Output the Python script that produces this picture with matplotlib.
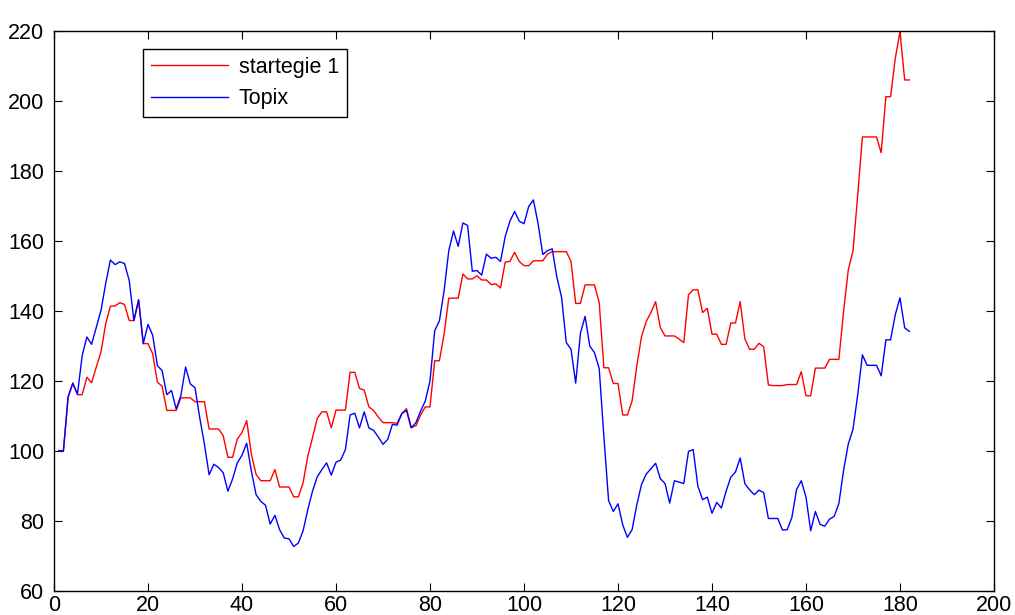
import numpy as np
import matplotlib.pyplot as plt

plt.rcParams['font.family'] = ['Liberation Sans', 'DejaVu Sans']

# cumulative value, base 100
strategy = [
    100, 100, 115.3, 119.3, 116, 116, 121, 119.4, 123.9, 128.2,
    136.3, 141.3, 141.4, 142.3, 141.8, 137.2, 137.2, 143, 130.6, 130.6,
    127.7, 119.6, 118.4, 111.5, 111.5, 111.5, 115.1, 115.1, 115.1, 114,
    114, 114, 106.2, 106.2, 106.2, 104.3, 98.1, 98.1, 103.3, 105.2,
    108.6, 98.9, 93.2, 91.4, 91.4, 91.4, 94.6, 89.6, 89.6, 89.6,
    86.8, 86.8, 90.8, 98.4, 103.7, 109.2, 111.1, 111.1, 106.5, 111.6,
    111.6, 111.6, 122.4, 122.4, 117.8, 117.3, 112.5, 111.5, 109.6, 108,
    108, 108, 107.8, 110.6, 112, 106.6, 107.1, 110.2, 112.5, 112.5,
    125.7, 125.7, 133.3, 143.6, 143.6, 143.6, 150.5, 149.1, 149.1, 150,
    148.8, 148.8, 147.5, 147.7, 146.5, 153.9, 154.1, 156.7, 154.1, 152.9,
    152.9, 154.3, 154.3, 154.3, 156.2, 156.9, 156.9, 156.9, 156.9, 154.1,
    142.1, 142.1, 147.4, 147.4, 147.4, 142.4, 123.7, 123.7, 119.2, 119.2,
    110.2, 110.2, 114.2, 124.2, 132.6, 136.9, 139.5, 142.6, 135.2, 132.8,
    132.8, 132.8, 131.9, 130.9, 144.6, 146, 146, 139.5, 140.7, 133.3,
    133.3, 130.4, 130.4, 136.5, 136.5, 142.6, 131.9, 129, 129, 130.7,
    129.7, 118.8, 118.6, 118.6, 118.6, 118.9, 118.9, 118.9, 122.6, 115.7,
    115.7, 123.6, 123.6, 123.6, 126.1, 126.1, 126.1, 139.9, 151.7, 157.1,
    173, 189.7, 189.7, 189.7, 189.7, 185.2, 201.2, 201.2, 212.2, 219.8,
    206, 206,
]

topix = [
    100, 99.8, 115.3, 119.3, 116.2, 127.2, 132.5, 130.4, 135.3, 140.1,
    147.8, 154.5, 153.2, 154, 153.5, 148.7, 137.2, 143.2, 130.6, 136.1,
    133, 124.3, 122.9, 116, 117.2, 111.9, 115.8, 123.9, 119.1, 118,
    109.5, 101.9, 93.1, 96.1, 95.2, 93.7, 88.4, 91.9, 96.5, 98.7,
    102.1, 94.1, 87.4, 85.5, 84.4, 79, 81.5, 77.4, 75, 74.8,
    72.6, 73.6, 77.1, 83.1, 88.4, 92.5, 94.6, 96.5, 93, 96.7,
    97.3, 100.3, 110.2, 110.7, 106.5, 111.1, 106.5, 105.8, 103.9, 101.8,
    103.2, 107.5, 107.3, 110.6, 111.5, 106.5, 108, 111.3, 114.2, 119.9,
    134.3, 137.1, 145.7, 157.2, 162.8, 158.4, 165.1, 164.4, 151.3, 151.5,
    150.2, 156.2, 155, 155.3, 154.1, 161.2, 165.6, 168.4, 165.6, 164.9,
    169.8, 171.7, 164.9, 156.1, 157.2, 157.7, 149.6, 143.8, 130.9, 129,
    119.3, 133.5, 138.4, 129.9, 128, 123.5, 104, 85.7, 82.6, 84.8,
    78.8, 75.2, 77.4, 84.5, 90.3, 93.3, 94.8, 96.4, 92, 90.6,
    85, 91.4, 91, 90.6, 99.8, 100.3, 89.8, 86, 86.7, 82.1,
    85.2, 83.6, 88.4, 92.4, 93.9, 97.9, 90.5, 88.8, 87.4, 88.7,
    88, 80.6, 80.6, 80.6, 77.3, 77.4, 80.9, 88.9, 91.4, 86.7,
    77.1, 82.6, 78.9, 78.4, 80.4, 81.2, 84.9, 94.4, 101.9, 106.1,
    115.9, 127.4, 124.4, 124.4, 124.4, 121.4, 131.7, 131.7, 138.9, 143.7,
    135.1, 134.1,
]

days = np.arange(1, len(strategy) + 1)

fig = plt.figure(figsize=(10.15, 6.15), dpi=100)
ax = fig.add_axes([0.0532, 0.0398, 0.9261, 0.9098])

ax.plot(days, strategy, color='#ff0000', lw=1.0, label='startegie 1')
ax.plot(days, topix, color='#0000ff', lw=1.0, label='Topix')

ax.set_xlim(0, 200)
ax.set_ylim(60, 220)
ax.set_xticks(np.arange(0, 201, 20))
ax.set_yticks(np.arange(60, 221, 20))
ax.tick_params(direction='in', top=True, right=True, length=6, width=0.8,
               labelsize=15.5)
ax.tick_params(axis='x', pad=3)
ax.tick_params(axis='y', pad=7)
for s in ax.spines.values():
    s.set_linewidth(1.0)

leg = ax.legend(loc='upper left', bbox_to_anchor=(0.0947, 0.9678), fontsize=15.5,
                frameon=True, fancybox=False, framealpha=1, edgecolor='black',
                borderaxespad=0, borderpad=0.35, handlelength=3.6,
                handletextpad=0.5, labelspacing=0.5)
leg.get_frame().set_linewidth(1.0)

fig.savefig('out.png', dpi=100)
